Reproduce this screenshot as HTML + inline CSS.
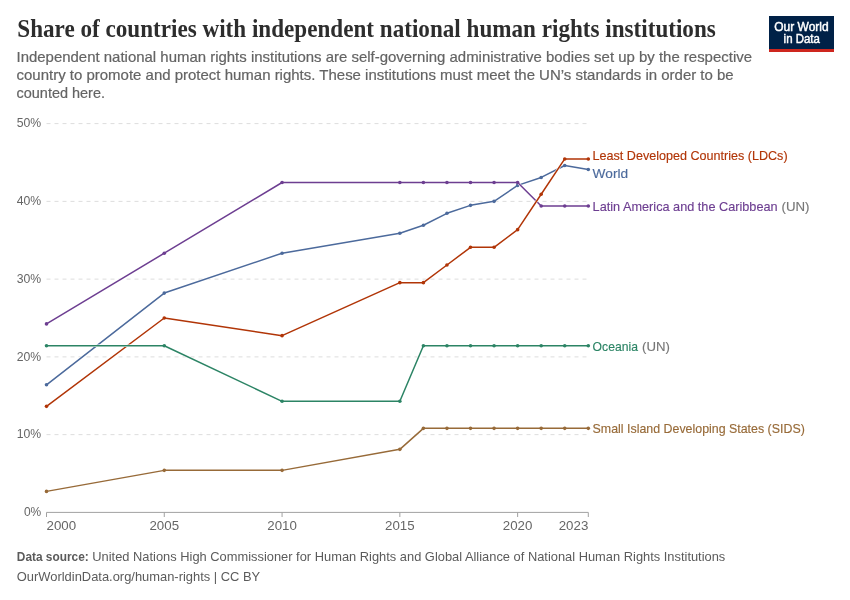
<!DOCTYPE html>
<html><head><meta charset="utf-8"><style>
html,body{margin:0;padding:0;background:#fff;width:850px;height:600px;overflow:hidden}
svg{display:block;will-change:transform}
text{font-family:"Liberation Sans",sans-serif}
.ax{font-size:13.3px;fill:#666}
.ttl{font-family:"Liberation Serif",serif;font-weight:bold;font-size:25px;fill:#2d2d2d}
.sub{font-size:14.4px;fill:#646464;stroke:#646464;stroke-width:0.2px}
.lbl{font-size:13px;stroke-width:0.15px;paint-order:normal}
.ft{font-size:12.4px;fill:#5b5b5b}
</style></head><body>
<svg width="850" height="600" viewBox="0 0 850 600">
<text x="17.3" y="36.8" class="ttl" textLength="698.5" lengthAdjust="spacingAndGlyphs">Share of countries with independent national human rights institutions</text>
<text x="16.5" y="62.2" class="sub" textLength="735.5" lengthAdjust="spacingAndGlyphs">Independent national human rights institutions are self-governing administrative bodies set up by the respective</text>
<text x="16.5" y="80" class="sub" textLength="717.2" lengthAdjust="spacingAndGlyphs">country to promote and protect human rights. These institutions must meet the UN’s standards in order to be</text>
<text x="16.5" y="97.5" class="sub" textLength="88.5" lengthAdjust="spacingAndGlyphs">counted here.</text>
<rect x="769" y="16" width="65" height="36" fill="#002147"/>
<rect x="769" y="49" width="65" height="3" fill="#ce261e"/>
<text x="774.3" y="30.8" fill="#fff" stroke="#fff" stroke-width="0.45" font-size="12.3" textLength="54.4" lengthAdjust="spacingAndGlyphs">Our World</text>
<text x="783.6" y="42.9" fill="#fff" stroke="#fff" stroke-width="0.45" font-size="12.3" textLength="36.3" lengthAdjust="spacingAndGlyphs">in Data</text>
<line x1="46.5" y1="434.64" x2="588.3" y2="434.64" stroke="#dddddd" stroke-width="1" stroke-dasharray="4,4"/>
<line x1="46.5" y1="356.88" x2="588.3" y2="356.88" stroke="#dddddd" stroke-width="1" stroke-dasharray="4,4"/>
<line x1="46.5" y1="279.12" x2="588.3" y2="279.12" stroke="#dddddd" stroke-width="1" stroke-dasharray="4,4"/>
<line x1="46.5" y1="201.36" x2="588.3" y2="201.36" stroke="#dddddd" stroke-width="1" stroke-dasharray="4,4"/>
<line x1="46.5" y1="123.60" x2="588.3" y2="123.60" stroke="#dddddd" stroke-width="1" stroke-dasharray="4,4"/>
<line x1="46.5" y1="512.4" x2="588.3" y2="512.4" stroke="#a1a1a1" stroke-width="1"/>
<line x1="46.50" y1="512.4" x2="46.50" y2="517.0" stroke="#a1a1a1" stroke-width="1"/>
<line x1="164.28" y1="512.4" x2="164.28" y2="517.0" stroke="#a1a1a1" stroke-width="1"/>
<line x1="282.07" y1="512.4" x2="282.07" y2="517.0" stroke="#a1a1a1" stroke-width="1"/>
<line x1="399.85" y1="512.4" x2="399.85" y2="517.0" stroke="#a1a1a1" stroke-width="1"/>
<line x1="517.63" y1="512.4" x2="517.63" y2="517.0" stroke="#a1a1a1" stroke-width="1"/>
<line x1="588.30" y1="512.4" x2="588.30" y2="517.0" stroke="#a1a1a1" stroke-width="1"/>
<text x="23.90" y="516.20" class="ax" textLength="17.3" lengthAdjust="spacingAndGlyphs">0%</text>
<text x="16.70" y="438.44" class="ax" textLength="24.5" lengthAdjust="spacingAndGlyphs">10%</text>
<text x="16.70" y="360.68" class="ax" textLength="24.5" lengthAdjust="spacingAndGlyphs">20%</text>
<text x="16.70" y="282.92" class="ax" textLength="24.5" lengthAdjust="spacingAndGlyphs">30%</text>
<text x="16.70" y="205.16" class="ax" textLength="24.5" lengthAdjust="spacingAndGlyphs">40%</text>
<text x="16.70" y="127.40" class="ax" textLength="24.5" lengthAdjust="spacingAndGlyphs">50%</text>
<text x="46.50" y="529.9" text-anchor="start" class="ax">2000</text>
<text x="164.28" y="529.9" text-anchor="middle" class="ax">2005</text>
<text x="282.07" y="529.9" text-anchor="middle" class="ax">2010</text>
<text x="399.85" y="529.9" text-anchor="middle" class="ax">2015</text>
<text x="517.63" y="529.9" text-anchor="middle" class="ax">2020</text>
<text x="588.30" y="529.9" text-anchor="end" class="ax">2023</text>
<polyline points="46.50,384.79 164.28,293.08 282.07,253.20 399.85,233.26 423.40,225.29 446.96,213.32 470.52,205.35 494.07,201.36 517.63,185.41 541.19,177.43 564.74,165.47 588.30,169.46" fill="none" stroke="#fff" stroke-width="2.4" stroke-linejoin="round"/>
<polyline points="46.50,384.79 164.28,293.08 282.07,253.20 399.85,233.26 423.40,225.29 446.96,213.32 470.52,205.35 494.07,201.36 517.63,185.41 541.19,177.43 564.74,165.47 588.30,169.46" fill="none" stroke="#4C6A9C" stroke-width="1.5" stroke-linejoin="round"/>
<circle cx="46.50" cy="384.79" r="1.8" fill="#4C6A9C"/>
<circle cx="164.28" cy="293.08" r="1.8" fill="#4C6A9C"/>
<circle cx="282.07" cy="253.20" r="1.8" fill="#4C6A9C"/>
<circle cx="399.85" cy="233.26" r="1.8" fill="#4C6A9C"/>
<circle cx="423.40" cy="225.29" r="1.8" fill="#4C6A9C"/>
<circle cx="446.96" cy="213.32" r="1.8" fill="#4C6A9C"/>
<circle cx="470.52" cy="205.35" r="1.8" fill="#4C6A9C"/>
<circle cx="494.07" cy="201.36" r="1.8" fill="#4C6A9C"/>
<circle cx="517.63" cy="185.41" r="1.8" fill="#4C6A9C"/>
<circle cx="541.19" cy="177.43" r="1.8" fill="#4C6A9C"/>
<circle cx="564.74" cy="165.47" r="1.8" fill="#4C6A9C"/>
<circle cx="588.30" cy="169.46" r="1.8" fill="#4C6A9C"/>
<polyline points="46.50,323.89 164.28,253.20 282.07,182.51 399.85,182.51 423.40,182.51 446.96,182.51 470.52,182.51 494.07,182.51 517.63,182.51 541.19,206.07 564.74,206.07 588.30,206.07" fill="none" stroke="#fff" stroke-width="2.4" stroke-linejoin="round"/>
<polyline points="46.50,323.89 164.28,253.20 282.07,182.51 399.85,182.51 423.40,182.51 446.96,182.51 470.52,182.51 494.07,182.51 517.63,182.51 541.19,206.07 564.74,206.07 588.30,206.07" fill="none" stroke="#6D3E91" stroke-width="1.5" stroke-linejoin="round"/>
<circle cx="46.50" cy="323.89" r="1.8" fill="#6D3E91"/>
<circle cx="164.28" cy="253.20" r="1.8" fill="#6D3E91"/>
<circle cx="282.07" cy="182.51" r="1.8" fill="#6D3E91"/>
<circle cx="399.85" cy="182.51" r="1.8" fill="#6D3E91"/>
<circle cx="423.40" cy="182.51" r="1.8" fill="#6D3E91"/>
<circle cx="446.96" cy="182.51" r="1.8" fill="#6D3E91"/>
<circle cx="470.52" cy="182.51" r="1.8" fill="#6D3E91"/>
<circle cx="494.07" cy="182.51" r="1.8" fill="#6D3E91"/>
<circle cx="517.63" cy="182.51" r="1.8" fill="#6D3E91"/>
<circle cx="541.19" cy="206.07" r="1.8" fill="#6D3E91"/>
<circle cx="564.74" cy="206.07" r="1.8" fill="#6D3E91"/>
<circle cx="588.30" cy="206.07" r="1.8" fill="#6D3E91"/>
<polyline points="46.50,406.36 164.28,318.00 282.07,335.67 399.85,282.65 423.40,282.65 446.96,264.98 470.52,247.31 494.07,247.31 517.63,229.64 541.19,194.29 564.74,158.95 588.30,158.95" fill="none" stroke="#fff" stroke-width="2.4" stroke-linejoin="round"/>
<polyline points="46.50,406.36 164.28,318.00 282.07,335.67 399.85,282.65 423.40,282.65 446.96,264.98 470.52,247.31 494.07,247.31 517.63,229.64 541.19,194.29 564.74,158.95 588.30,158.95" fill="none" stroke="#B13507" stroke-width="1.5" stroke-linejoin="round"/>
<circle cx="46.50" cy="406.36" r="1.8" fill="#B13507"/>
<circle cx="164.28" cy="318.00" r="1.8" fill="#B13507"/>
<circle cx="282.07" cy="335.67" r="1.8" fill="#B13507"/>
<circle cx="399.85" cy="282.65" r="1.8" fill="#B13507"/>
<circle cx="423.40" cy="282.65" r="1.8" fill="#B13507"/>
<circle cx="446.96" cy="264.98" r="1.8" fill="#B13507"/>
<circle cx="470.52" cy="247.31" r="1.8" fill="#B13507"/>
<circle cx="494.07" cy="247.31" r="1.8" fill="#B13507"/>
<circle cx="517.63" cy="229.64" r="1.8" fill="#B13507"/>
<circle cx="541.19" cy="194.29" r="1.8" fill="#B13507"/>
<circle cx="564.74" cy="158.95" r="1.8" fill="#B13507"/>
<circle cx="588.30" cy="158.95" r="1.8" fill="#B13507"/>
<polyline points="46.50,345.77 164.28,345.77 282.07,401.31 399.85,401.31 423.40,345.77 446.96,345.77 470.52,345.77 494.07,345.77 517.63,345.77 541.19,345.77 564.74,345.77 588.30,345.77" fill="none" stroke="#fff" stroke-width="2.4" stroke-linejoin="round"/>
<polyline points="46.50,345.77 164.28,345.77 282.07,401.31 399.85,401.31 423.40,345.77 446.96,345.77 470.52,345.77 494.07,345.77 517.63,345.77 541.19,345.77 564.74,345.77 588.30,345.77" fill="none" stroke="#2C8465" stroke-width="1.5" stroke-linejoin="round"/>
<circle cx="46.50" cy="345.77" r="1.8" fill="#2C8465"/>
<circle cx="164.28" cy="345.77" r="1.8" fill="#2C8465"/>
<circle cx="282.07" cy="401.31" r="1.8" fill="#2C8465"/>
<circle cx="399.85" cy="401.31" r="1.8" fill="#2C8465"/>
<circle cx="423.40" cy="345.77" r="1.8" fill="#2C8465"/>
<circle cx="446.96" cy="345.77" r="1.8" fill="#2C8465"/>
<circle cx="470.52" cy="345.77" r="1.8" fill="#2C8465"/>
<circle cx="494.07" cy="345.77" r="1.8" fill="#2C8465"/>
<circle cx="517.63" cy="345.77" r="1.8" fill="#2C8465"/>
<circle cx="541.19" cy="345.77" r="1.8" fill="#2C8465"/>
<circle cx="564.74" cy="345.77" r="1.8" fill="#2C8465"/>
<circle cx="588.30" cy="345.77" r="1.8" fill="#2C8465"/>
<polyline points="46.50,491.38 164.28,470.37 282.07,470.37 399.85,449.35 423.40,428.34 446.96,428.34 470.52,428.34 494.07,428.34 517.63,428.34 541.19,428.34 564.74,428.34 588.30,428.34" fill="none" stroke="#fff" stroke-width="2.4" stroke-linejoin="round"/>
<polyline points="46.50,491.38 164.28,470.37 282.07,470.37 399.85,449.35 423.40,428.34 446.96,428.34 470.52,428.34 494.07,428.34 517.63,428.34 541.19,428.34 564.74,428.34 588.30,428.34" fill="none" stroke="#976A38" stroke-width="1.5" stroke-linejoin="round"/>
<circle cx="46.50" cy="491.38" r="1.8" fill="#976A38"/>
<circle cx="164.28" cy="470.37" r="1.8" fill="#976A38"/>
<circle cx="282.07" cy="470.37" r="1.8" fill="#976A38"/>
<circle cx="399.85" cy="449.35" r="1.8" fill="#976A38"/>
<circle cx="423.40" cy="428.34" r="1.8" fill="#976A38"/>
<circle cx="446.96" cy="428.34" r="1.8" fill="#976A38"/>
<circle cx="470.52" cy="428.34" r="1.8" fill="#976A38"/>
<circle cx="494.07" cy="428.34" r="1.8" fill="#976A38"/>
<circle cx="517.63" cy="428.34" r="1.8" fill="#976A38"/>
<circle cx="541.19" cy="428.34" r="1.8" fill="#976A38"/>
<circle cx="564.74" cy="428.34" r="1.8" fill="#976A38"/>
<circle cx="588.30" cy="428.34" r="1.8" fill="#976A38"/>
<text x="592.6" y="159.5" class="lbl" fill="#B13507" stroke="#B13507" textLength="195" lengthAdjust="spacingAndGlyphs">Least Developed Countries (LDCs)</text>
<text x="592.6" y="178" class="lbl" fill="#4C6A9C" stroke="#4C6A9C" textLength="35.5" lengthAdjust="spacingAndGlyphs">World</text>
<text x="592.6" y="211" class="lbl" fill="#6D3E91" stroke="#6D3E91" textLength="185" lengthAdjust="spacingAndGlyphs">Latin America and the Caribbean</text>
<text x="781.5" y="211" class="lbl" fill="#777777" stroke="#777777" textLength="28" lengthAdjust="spacingAndGlyphs">(UN)</text>
<text x="592.6" y="350.5" class="lbl" fill="#2C8465" stroke="#2C8465" textLength="45.3" lengthAdjust="spacingAndGlyphs">Oceania</text>
<text x="642" y="350.5" class="lbl" fill="#777777" stroke="#777777" textLength="27.8" lengthAdjust="spacingAndGlyphs">(UN)</text>
<text x="592.6" y="433" class="lbl" fill="#976A38" stroke="#976A38" textLength="212.2" lengthAdjust="spacingAndGlyphs">Small Island Developing States (SIDS)</text>
<text x="16.8" y="560.5" class="ft" font-weight="bold" textLength="72" lengthAdjust="spacingAndGlyphs">Data source:</text>
<text x="92.3" y="560.5" class="ft" textLength="633" lengthAdjust="spacingAndGlyphs">United Nations High Commissioner for Human Rights and Global Alliance of National Human Rights Institutions</text>
<text x="16.8" y="580.6" class="ft" textLength="243.4" lengthAdjust="spacingAndGlyphs">OurWorldinData.org/human-rights | CC BY</text>
</svg>
</body></html>
